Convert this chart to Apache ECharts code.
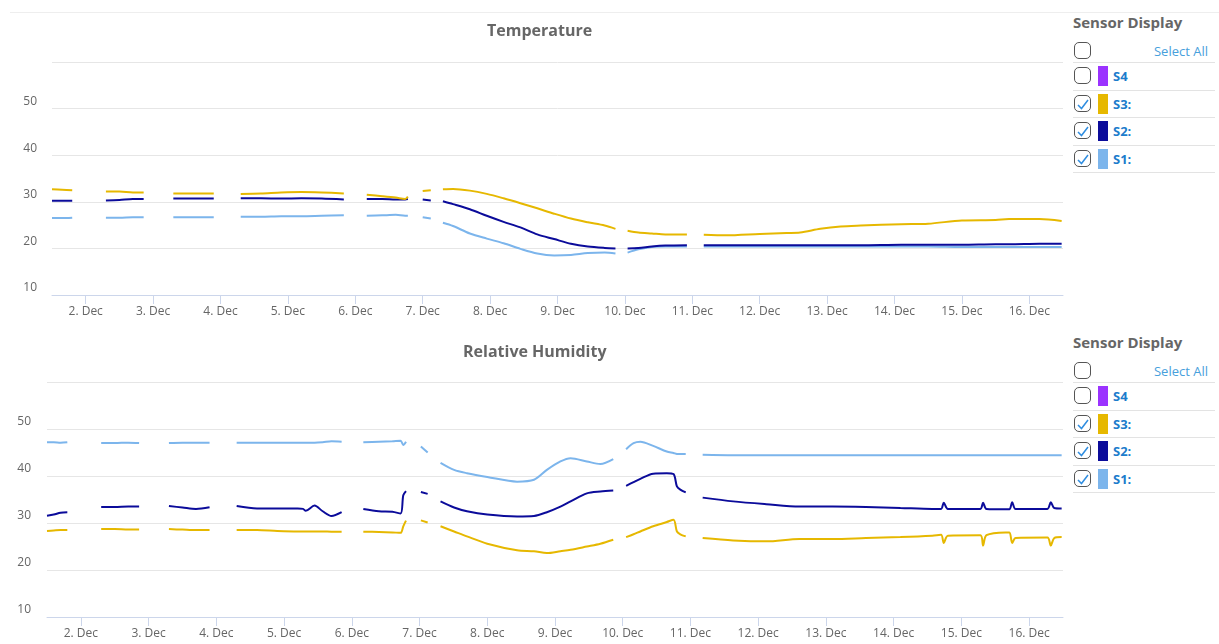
<!DOCTYPE html>
<html>
<head>
<meta charset="utf-8">
<script src="https://cdn.jsdelivr.net/npm/echarts@6/dist/echarts.min.js"></script>
<style>
  html, body { margin: 0; padding: 0; background: #fff; font-family: "Open Sans", sans-serif; }
  #page { position: relative; width: 1219px; height: 644px; overflow: hidden; }
  .topline { position: absolute; left: 10px; right: 0; top: 12px; border-top: 1px solid #eeeeee; }
  .chart { position: absolute; left: 0; width: 1070px; height: 321px; }
  .panel { position: absolute; left: 1073px; width: 142px; }
  .ptitle { height: 22px; margin-top: 11px; font-size: 15px; font-weight: bold; color: #666; line-height: 22px; }
  .row { position: relative; height: 26.5px; border-bottom: 1px solid #e3e3e3; }
  .row.first { height: 24px; margin-top: 5px; }
  .cb { position: absolute; left: 1px; top: 50%; margin-top: -9px; width: 15px; height: 15px;
        border: 1.5px solid #555; border-radius: 5px; box-sizing: content-box; }
  .row.first .cb { margin-top: -8px; }
  .cb svg { position: absolute; left: 1px; top: 2px; }
  .sw { position: absolute; left: 25px; top: 50%; margin-top: -10px; width: 10px; height: 20px; }
  .lab { position: absolute; left: 40px; top: 0; line-height: 26px; font-size: 13px; font-weight: bold; color: #1c7ccc; }
  .sel { position: absolute; right: 7px; top: 1px; line-height: 24px; font-size: 13px; color: #47a0dc; }
</style>
</head>
<body>
<div id="page">
  <div class="topline"></div>
  <div id="temp" class="chart" style="top:0"></div>
  <div id="hum" class="chart" style="top:321px"></div>
  <div id="panel1" class="panel" style="top:0"></div>
  <div id="panel2" class="panel" style="top:320px"></div>
</div>
<script>
// day of December, gaps marked with null in the value arrays
var tempDays = [1.5, 1.65, 1.8, 2.05,
  2.3, 2.5, 2.7, 2.86, 3.1,
  3.3, 3.6, 3.9, 4.1,
  4.3, 4.6, 4.9, 5.2, 5.5, 5.83, 6.0,
  6.17, 6.4, 6.6, 6.74, 6.78, 6.9,
  7.0, 7.12, 7.2,
  7.3, 7.45, 7.7, 7.95, 8.2, 8.45, 8.7, 8.95, 9.2, 9.45, 9.7, 9.86, 9.95,
  10.04, 10.2, 10.4, 10.6, 10.92, 11.05,
  11.17, 11.5, 12.0, 12.4, 12.6, 12.9, 13.2, 13.5, 14.1, 14.5, 15.0, 15.5, 15.7, 16.15, 16.48]

var tempS3 = [32.7, 32.6, 32.5, null,
  32.2, 32.2, 32.0, 32.0, null,
  31.8, 31.8, 31.8, null,
  31.7, 31.8, 32.0, 32.1, 32.0, 31.8, null,
  31.5, 31.2, 30.9, 30.6, 31.1, null,
  32.3, 32.5, null,
  32.7, 32.75, 32.4, 31.7, 30.75, 29.7, 28.6, 27.45, 26.4, 25.6, 24.9, 24.2, null,
  23.8, 23.4, 23.2, 23.0, 23.0, null,
  22.95, 22.8, 23.1, 23.3, 23.4, 24.2, 24.7, 24.9, 25.2, 25.3, 26.0, 26.1, 26.3, 26.3, 25.9]

var tempS2 = [30.2, 30.2, 30.2, null,
  30.3, 30.4, 30.6, 30.6, null,
  30.7, 30.7, 30.7, null,
  30.75, 30.75, 30.7, 30.75, 30.7, 30.5, null,
  30.6, 30.6, 30.5, 30.5, 30.6, null,
  30.5, 30.3, null,
  30.1, 29.5, 28.4, 27.0, 25.7, 24.5, 23.0, 22.0, 21.0, 20.4, 20.1, 20.0, null,
  20.0, 20.1, 20.4, 20.6, 20.7, null,
  20.7, 20.7, 20.7, 20.7, 20.7, 20.7, 20.7, 20.7, 20.8, 20.8, 20.8, 20.9, 20.9, 21.0, 21.0]

var tempS1 = [26.5, 26.5, 26.6, null,
  26.6, 26.6, 26.7, 26.7, null,
  26.7, 26.7, 26.7, null,
  26.8, 26.8, 26.9, 26.9, 27.0, 27.1, null,
  27.0, 27.1, 27.2, 27.0, 27.0, null,
  26.7, 26.4, null,
  25.5, 24.8, 23.2, 22.1, 21.1, 19.9, 18.9, 18.5, 18.6, 19.0, 19.1, 18.9, null,
  19.1, 19.8, 20.3, 20.4, 20.4, null,
  20.4, 20.4, 20.4, 20.4, 20.4, 20.4, 20.4, 20.4, 20.4, 20.4, 20.3, 20.3, 20.3, 20.3, 20.3]

var humDays = [1.5, 1.6, 1.7, 1.8, 2.05,
  2.3, 2.5, 2.7, 2.86, 3.1,
  3.3, 3.5, 3.7, 3.9, 4.1,
  4.3, 4.6, 4.9, 5.2, 5.28, 5.32, 5.45, 5.57, 5.7, 5.85, 6.0,
  6.17, 6.4, 6.6, 6.72, 6.76, 6.8, 6.9,
  7.02, 7.12, 7.2,
  7.31, 7.51, 7.7, 8.0, 8.44, 8.69, 8.88, 9.08, 9.23, 9.47, 9.67, 9.86, 9.95,
  10.05, 10.16, 10.26, 10.45, 10.65, 10.75, 10.8, 10.85, 10.93, 11.05,
  11.18, 11.63, 12.12, 12.61, 13.1, 13.59, 14.1, 14.57, 14.7, 14.74, 14.8, 15.28, 15.32, 15.37,
  15.65, 15.71, 15.75, 15.8, 16.27, 16.32, 16.37, 16.48]

var humS1 = [47.2, 47.2, 47.1, 47.2, null,
  47.0, 47.0, 47.1, 47.0, null,
  47.0, 47.1, 47.1, 47.1, null,
  47.1, 47.1, 47.1, 47.1, 47.1, 47.1, 47.1, 47.2, 47.4, 47.3, null,
  47.2, 47.3, 47.4, 47.5, 46.6, 47.3, null,
  46.3, 45.0, null,
  42.8, 41.3, 40.6, 39.8, 38.8, 39.2, 41.3, 43.1, 43.8, 43.1, 42.55, 43.6, null,
  45.7, 47.0, 47.3, 46.4, 45.2, 44.9, 44.7, 44.7, 44.7, null,
  44.5, 44.4, 44.4, 44.4, 44.4, 44.4, 44.4, 44.4, 44.4, 44.4, 44.4, 44.4, 44.4, 44.4,
  44.4, 44.4, 44.4, 44.4, 44.4, 44.4, 44.4, 44.4]

var humS2 = [31.55, 31.8, 32.2, 32.3, null,
  33.4, 33.4, 33.5, 33.5, null,
  33.6, 33.3, 33.0, 33.35, null,
  33.6, 33.1, 33.1, 33.1, 33.0, 32.6, 33.7, 32.5, 31.5, 32.3, null,
  33.0, 32.5, 32.4, 32.0, 35.9, 36.8, null,
  36.6, 36.2, null,
  34.6, 33.3, 32.5, 31.8, 31.4, 31.5, 32.3, 33.5, 34.6, 36.3, 36.7, 36.9, null,
  37.9, 38.7, 39.4, 40.5, 40.6, 40.4, 37.8, 37.1, 36.5, null,
  35.4, 34.6, 34.0, 33.5, 33.5, 33.4, 33.2, 33.0, 33.0, 34.3, 33.0, 33.0, 34.3, 33.0,
  32.9, 32.9, 34.4, 33.0, 33.0, 34.4, 33.2, 33.1]

var humS3 = [28.3, 28.4, 28.5, 28.5, null,
  28.7, 28.7, 28.6, 28.6, null,
  28.7, 28.6, 28.5, 28.5, null,
  28.5, 28.5, 28.3, 28.2, 28.2, 28.2, 28.2, 28.2, 28.15, 28.15, null,
  28.15, 28.1, 28.0, 27.9, 29.3, 30.5, null,
  30.55, 30.1, null,
  29.3, 28.2, 27.15, 25.6, 24.2, 24.0, 23.6, 24.0, 24.3, 25.0, 25.6, 26.45, null,
  27.0, 27.6, 28.2, 29.3, 30.2, 30.7, 28.2, 27.6, 27.15, null,
  26.8, 26.3, 26.1, 26.6, 26.6, 26.8, 27.0, 27.3, 27.5, 25.75, 27.3, 27.4, 25.2, 27.4,
  28.0, 28.0, 25.75, 26.8, 26.9, 25.2, 26.8, 27.0]

var dayTicks = [2, 3, 4, 5, 6, 7, 8, 9, 10, 11, 12, 13, 14, 15, 16]
var sensors = ['S4', 'S3:', 'S2:', 'S1:']
var sensorColors = ['#9b33ff', '#e6b800', '#0b0b9a', '#7cb5ec']
var sensorChecked = [false, true, true, true]

function pairs(days, vals) {
  return days.map(function (d, i) {
    return [d, vals[i] == null ? '-' : vals[i]]
  })
}

function lineSeries(name, color, days, vals) {
  return {
    name: name,
    type: 'line',
    data: pairs(days, vals),
    showSymbol: false,
    smooth: 0.3,
    connectNulls: false,
    lineStyle: { color: color, width: 2 },
    itemStyle: { color: color },
    animation: false
  }
}

function initChart(el, title, titleLeft, grid, days, s1, s2, s3) {
  var chart = echarts.init(document.getElementById(el))
  chart.setOption({
    textStyle: { fontFamily: 'Open Sans' },
    title: {
      text: title,
      left: titleLeft,
      top: 23,
      padding: 0,
      textStyle: { fontSize: 16, fontWeight: 'bold', color: '#666', fontFamily: 'Open Sans' }
    },
    grid: grid,
    xAxis: {
      type: 'value',
      min: 1.5,
      max: 16.5,
      axisLine: { show: true, lineStyle: { color: '#ccd6eb' } },
      axisTick: { show: true, length: 9, lineStyle: { color: '#ccd6eb' }, customValues: dayTicks },
      axisLabel: {
        customValues: dayTicks,
        margin: 11,
        color: '#666',
        fontSize: 12,
        fontFamily: 'Open Sans',
        formatter: function (v) { return v + '. Dec' }
      },
      splitLine: { show: false }
    },
    yAxis: {
      type: 'value',
      min: 10,
      max: 60,
      interval: 10,
      axisLine: { show: false },
      axisTick: { show: false },
      axisLabel: {
        showMaxLabel: false,
        color: '#666',
        fontSize: 12,
        fontFamily: 'Open Sans',
        margin: grid.labelMargin,
        verticalAlign: 'bottom',
        lineHeight: 14
      },
      splitLine: { lineStyle: { color: '#e6e6e6' } }
    },
    series: [
      lineSeries('S1', sensorColors[3], days, s1),
      lineSeries('S2', sensorColors[2], days, s2),
      lineSeries('S3', sensorColors[1], days, s3)
    ]
  })
  return chart
}

initChart('temp', 'Temperature', 487,
  { left: 52, top: 62, width: 1011, height: 233, labelMargin: 15 },
  tempDays, tempS1, tempS2, tempS3)
initChart('hum', 'Relative Humidity', 463,
  { left: 47, top: 61, width: 1016, height: 235, labelMargin: 16 },
  humDays, humS1, humS2, humS3)

var tick = '<svg width="14" height="13" viewBox="0 0 14 13"><polyline points="2,7 5.5,10.5 12,2" ' +
  'fill="none" stroke="#2f8de0" stroke-width="1.5"/></svg>'

function buildPanel(id) {
  var html = '<div class="ptitle">Sensor Display</div>'
  html += '<div class="row first"><span class="cb"></span><span class="sel">Select All</span></div>'
  sensors.forEach(function (s, i) {
    html += '<div class="row"><span class="cb">' + (sensorChecked[i] ? tick : '') + '</span>' +
      '<span class="sw" style="background:' + sensorColors[i] + '"></span>' +
      '<span class="lab">' + s + '</span></div>'
  })
  document.getElementById(id).innerHTML = html
}
buildPanel('panel1')
buildPanel('panel2')
</script>
</body>
</html>
